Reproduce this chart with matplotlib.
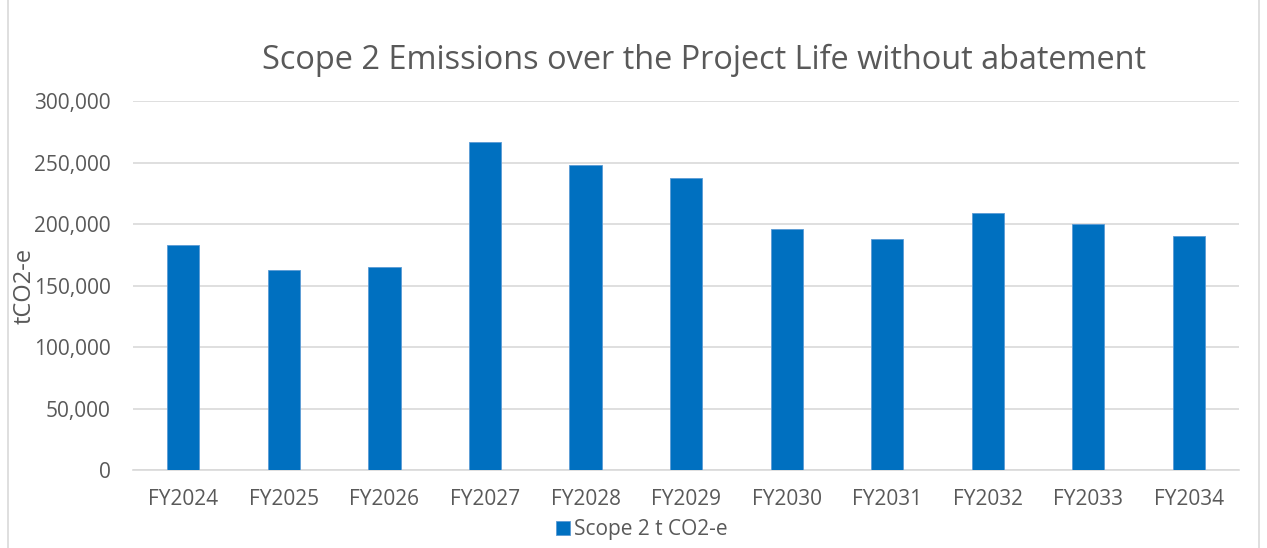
import numpy as np
import matplotlib.pyplot as plt
from matplotlib.patches import Rectangle
from matplotlib.ticker import FuncFormatter

plt.rcParams['font.family'] = ['Open Sans', 'DejaVu Sans']

years = ["FY2024", "FY2025", "FY2026", "FY2027", "FY2028", "FY2029",
         "FY2030", "FY2031", "FY2032", "FY2033", "FY2034"]
scope2 = [182900, 162600, 165000, 266400, 248000, 237100,
          196000, 187800, 208700, 200000, 190200]

fig = plt.figure(figsize=(12.67, 5.48), dpi=100)
ax = fig.add_axes([0.105, 0.1423, 0.873, 0.6734])

x = np.arange(len(years))
ax.bar(x, scope2, width=0.32, color="#0070C0", edgecolor="#5B9BD5",
       linewidth=0.6, label="Scope 2 t CO2-e", zorder=3)

ax.set_xlim(-0.5, len(years) - 0.5)
ax.set_ylim(0, 300000)
ax.set_yticks(np.arange(0, 300001, 50000))
ax.yaxis.set_major_formatter(FuncFormatter(lambda v, p: f"{int(v):,}"))
ax.set_xticks(x)
ax.set_xticklabels(years)
ax.grid(axis="y", color="#d9d9d9", linewidth=1.2, zorder=0)
for s in ["top", "right", "left"]:
    ax.spines[s].set_visible(False)
ax.spines["bottom"].set_color("#d9d9d9")
ax.spines["bottom"].set_linewidth(1.2)
ax.tick_params(axis="both", length=0, labelsize=15, colors="#595959")
ax.tick_params(axis="x", pad=14)
ax.tick_params(axis="y", pad=16)

ax.set_ylabel("tCO2-e", fontsize=17, color="#595959")
ax.yaxis.set_label_coords(-0.087, 0.5)

fig.text(0.556, 0.89, "Scope 2 Emissions over the Project Life without abatement",
         ha="center", va="center", fontsize=23.4, color="#595959")

ax.legend(loc="upper center", bbox_to_anchor=(0.46, -0.105), frameon=False,
          fontsize=15, handlelength=0.65, handleheight=0.65, handletextpad=0.2,
          borderpad=0, labelcolor="#595959")

fig.patches.append(Rectangle((0.006, -0.01), 0.988, 1.05, transform=fig.transFigure,
                             fill=False, edgecolor="#d9d9d9", linewidth=1.2))

plt.savefig("out.png", dpi=100)
